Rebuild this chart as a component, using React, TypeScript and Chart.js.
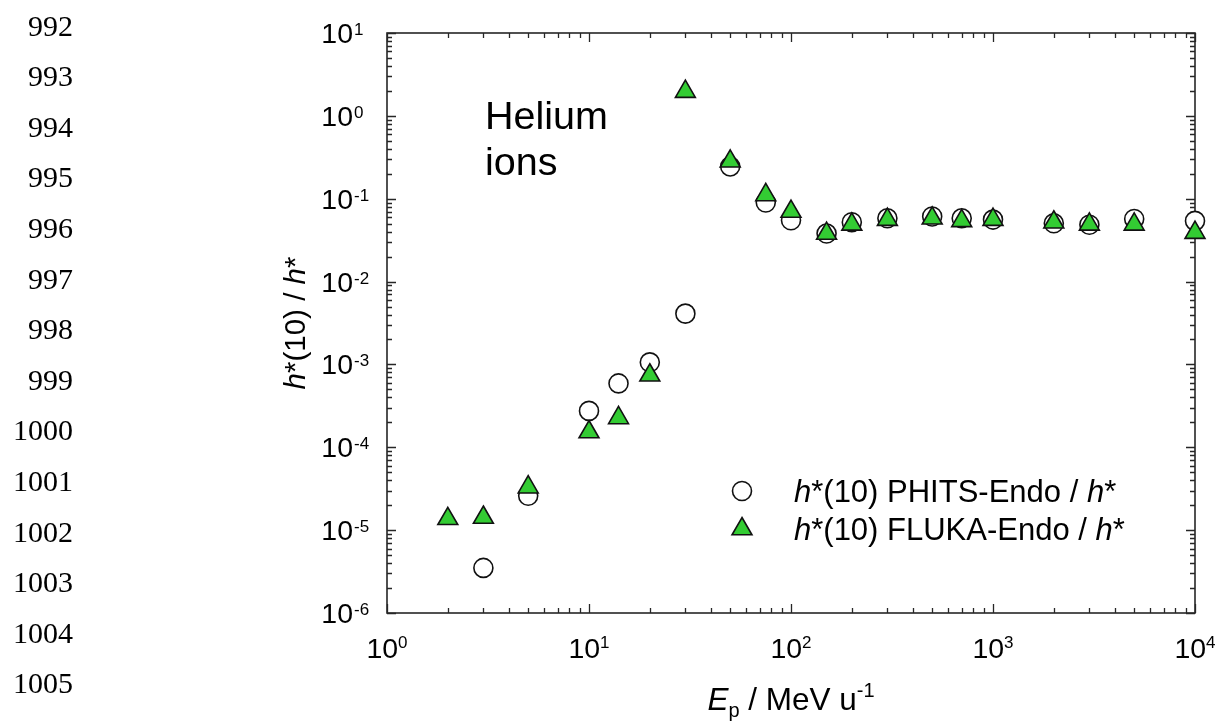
import React, { useEffect, useRef } from 'react';
import { Chart, registerables } from 'chart.js';

Chart.register(...registerables);

// ---- data ----
const phitsEnergy = [3, 5, 10, 14, 20, 30, 50, 75, 100, 150, 200, 300, 500, 700, 1000, 2000, 3000, 5000, 10000];
const phitsRatio = [3.5e-6, 2.6e-5, 2.75e-4, 5.9e-4, 1.06e-3, 4.1e-3, 0.245, 0.09, 0.055, 0.038, 0.052, 0.058, 0.061, 0.058, 0.056, 0.0505, 0.0485, 0.057, 0.054];

const flukaEnergy = [2, 3, 5, 10, 14, 20, 30, 50, 75, 100, 150, 200, 300, 500, 700, 1000, 2000, 3000, 5000, 10000];
const flukaRatio = [1.37e-5, 1.42e-5, 3.3e-5, 1.53e-4, 2.26e-4, 7.4e-4, 1.96, 0.283, 0.111, 0.07, 0.038, 0.049, 0.056, 0.058, 0.054, 0.056, 0.052, 0.049, 0.049, 0.039];

const xExponents = [0, 1, 2, 3, 4];
const yExponents = [-6, -5, -4, -3, -2, -1, 0, 1];
const lineNumbers = ['992', '993', '994', '995', '996', '997', '998', '999', '1000', '1001', '1002', '1003', '1004', '1005'];
const legendCodes = ['PHITS-Endo', 'FLUKA-Endo'];
const panelLines = ['Helium', 'ions'];

const SANS = '"Liberation Sans", Arial, Helvetica, sans-serif';
const SERIF = '"Liberation Serif", "Times New Roman", serif';
const GREEN = '#33cc33';

type Run = { text: string; size: number; italic?: boolean; dy?: number };

function runsWidth(ctx: CanvasRenderingContext2D, runs: Run[]) {
  let w = 0;
  for (const r of runs) {
    ctx.font = `${r.italic ? 'italic ' : ''}${r.size}px ${SANS}`;
    w += ctx.measureText(r.text).width;
  }
  return w;
}

function drawRuns(ctx: CanvasRenderingContext2D, runs: Run[], x: number, y: number, align: 'left' | 'center' | 'right') {
  const w = runsWidth(ctx, runs);
  let cx = align === 'left' ? x : align === 'center' ? x - w / 2 : x - w;
  ctx.textAlign = 'left';
  ctx.textBaseline = 'alphabetic';
  for (const r of runs) {
    ctx.font = `${r.italic ? 'italic ' : ''}${r.size}px ${SANS}`;
    ctx.fillText(r.text, cx, y + (r.dy || 0));
    cx += ctx.measureText(r.text).width;
  }
}

const decorPlugin = {
  id: 'decor',
  beforeDatasetsDraw(chart: any) {
    const ctx: CanvasRenderingContext2D = chart.ctx;
    const { left, right, top, bottom } = chart.chartArea;
    const xs = chart.scales.x;
    const ys = chart.scales.y;
    ctx.save();
    ctx.strokeStyle = '#262626';
    ctx.lineWidth = 1.6;
    ctx.strokeRect(left, top, right - left, bottom - top);
    ctx.lineWidth = 1.3;
    ctx.beginPath();
    for (const e of xExponents) {
      for (let m = 1; m <= 9; m++) {
        const v = m * Math.pow(10, e);
        if (v > xs.max * 1.0001) continue;
        const px = Math.round(xs.getPixelForValue(v)) + 0.5;
        const len = m === 1 ? 9 : 5;
        ctx.moveTo(px, bottom);
        ctx.lineTo(px, bottom - len);
        ctx.moveTo(px, top);
        ctx.lineTo(px, top + len);
      }
    }
    for (const e of yExponents) {
      for (let m = 1; m <= 9; m++) {
        const v = m * Math.pow(10, e);
        if (v > ys.max * 1.0001) continue;
        const py = Math.round(ys.getPixelForValue(v)) + 0.5;
        const len = m === 1 ? 9 : 5;
        ctx.moveTo(left, py);
        ctx.lineTo(left + len, py);
        ctx.moveTo(right, py);
        ctx.lineTo(right - len, py);
      }
    }
    ctx.stroke();
    ctx.restore();
  },
  afterDraw(chart: any) {
    const ctx: CanvasRenderingContext2D = chart.ctx;
    const { left, right, top, bottom } = chart.chartArea;
    const xs = chart.scales.x;
    const ys = chart.scales.y;
    ctx.save();
    ctx.fillStyle = '#000';

    // line numbers
    ctx.font = `30px ${SERIF}`;
    ctx.textAlign = 'right';
    ctx.textBaseline = 'alphabetic';
    lineNumbers.forEach((s, i) => ctx.fillText(s, 73, 35.5 + i * 50.6));

    // x tick labels
    for (const e of xExponents) {
      const px = xs.getPixelForValue(Math.pow(10, e));
      drawRuns(ctx, [
        { text: '10', size: 28.5 },
        { text: String(e), size: 17, dy: -10 },
      ], px, bottom + 45, 'center');
    }
    // y tick labels
    for (const e of yExponents) {
      const py = ys.getPixelForValue(Math.pow(10, e));
      ctx.font = `28.5px ${SANS}`;
      ctx.textAlign = 'right';
      ctx.fillText('10', left - 34, py + 10);
      ctx.font = `17px ${SANS}`;
      ctx.textAlign = 'left';
      ctx.fillText(String(e), left - 33, py + 2);
    }

    // x title
    drawRuns(ctx, [
      { text: 'E', size: 31.5, italic: true },
      { text: 'p', size: 20, dy: 7 },
      { text: ' / MeV u', size: 31.5 },
      { text: '-1', size: 20, dy: -13 },
    ], (left + right) / 2, 710, 'center');

    // y title
    ctx.save();
    ctx.translate(left - 92, (top + bottom) / 2);
    ctx.rotate(-Math.PI / 2);
    drawRuns(ctx, [
      { text: 'h', size: 29.5, italic: true },
      { text: '*(10) / ', size: 29.5 },
      { text: 'h', size: 29.5, italic: true },
      { text: '*', size: 29.5 },
    ], 0, 10, 'center');
    ctx.restore();

    // panel label
    ctx.font = `39.5px ${SANS}`;
    ctx.textAlign = 'left';
    ctx.fillText(panelLines[0], 485, 129);
    ctx.fillText(panelLines[1], 485, 175);

    // legend
    const lx = 742;
    const ly = [491, 529];
    ctx.lineWidth = 1.6;
    ctx.strokeStyle = '#111';
    ctx.fillStyle = '#fff';
    ctx.beginPath();
    ctx.arc(lx, ly[0], 9.5, 0, Math.PI * 2);
    ctx.fill();
    ctx.stroke();
    const r = 11.5;
    ctx.beginPath();
    ctx.moveTo(lx, ly[1] - r);
    ctx.lineTo(lx + r * Math.sin((2 * Math.PI) / 3), ly[1] - r * Math.cos((2 * Math.PI) / 3));
    ctx.lineTo(lx + r * Math.sin((4 * Math.PI) / 3), ly[1] - r * Math.cos((4 * Math.PI) / 3));
    ctx.closePath();
    ctx.fillStyle = GREEN;
    ctx.fill();
    ctx.stroke();
    ctx.fillStyle = '#000';
    const baselines = [502, 540];
    legendCodes.forEach((code, i) => {
      drawRuns(ctx, [
        { text: 'h', size: 31, italic: true },
        { text: `*(10) ${code} / `, size: 31 },
        { text: 'h', size: 31, italic: true },
        { text: '*', size: 31 },
      ], 794, baselines[i], 'left');
    });
    ctx.restore();
  },
};

export default function App() {
  const ref = useRef<HTMLCanvasElement | null>(null);
  useEffect(() => {
    if (!ref.current) return;
    const chart = new Chart(ref.current, {
      type: 'scatter',
      data: {
        datasets: [
          {
            label: 'h*(10) PHITS-Endo / h*',
            data: phitsEnergy.map((x, i) => ({ x, y: phitsRatio[i] })),
            pointStyle: 'circle',
            pointRadius: 9.5,
            pointBorderWidth: 1.6,
            pointBorderColor: '#111',
            pointBackgroundColor: '#fff',
            order: 2,
            clip: false,
          } as any,
          {
            label: 'h*(10) FLUKA-Endo / h*',
            data: flukaEnergy.map((x, i) => ({ x, y: flukaRatio[i] })),
            pointStyle: 'triangle',
            pointRadius: 11.5,
            pointBorderWidth: 1.6,
            pointBorderColor: '#111',
            pointBackgroundColor: GREEN,
            order: 1,
            clip: false,
          } as any,
        ],
      },
      options: {
        responsive: false,
        animation: false,
        devicePixelRatio: 1,
        events: [],
        layout: { padding: { left: 387, right: 24, top: 33, bottom: 108 } },
        plugins: { legend: { display: false }, tooltip: { enabled: false } },
        scales: {
          x: {
            type: 'logarithmic',
            min: 1,
            max: 10000,
            grid: { display: false },
            border: { display: false },
            ticks: { display: false },
            afterFit: (s: any) => { s.height = 0; },
          },
          y: {
            type: 'logarithmic',
            min: 1e-6,
            max: 10,
            grid: { display: false },
            border: { display: false },
            ticks: { display: false },
            afterFit: (s: any) => { s.width = 0; },
          },
        },
      } as any,
      plugins: [decorPlugin],
    });
    return () => chart.destroy();
  }, []);
  return (
    <div style={{ position: 'absolute', left: 0, top: 0, width: 1219, height: 721, background: '#fff' }}>
      <canvas ref={ref} width={1219} height={721} style={{ display: 'block', width: 1219, height: 721 }} />
    </div>
  );
}
